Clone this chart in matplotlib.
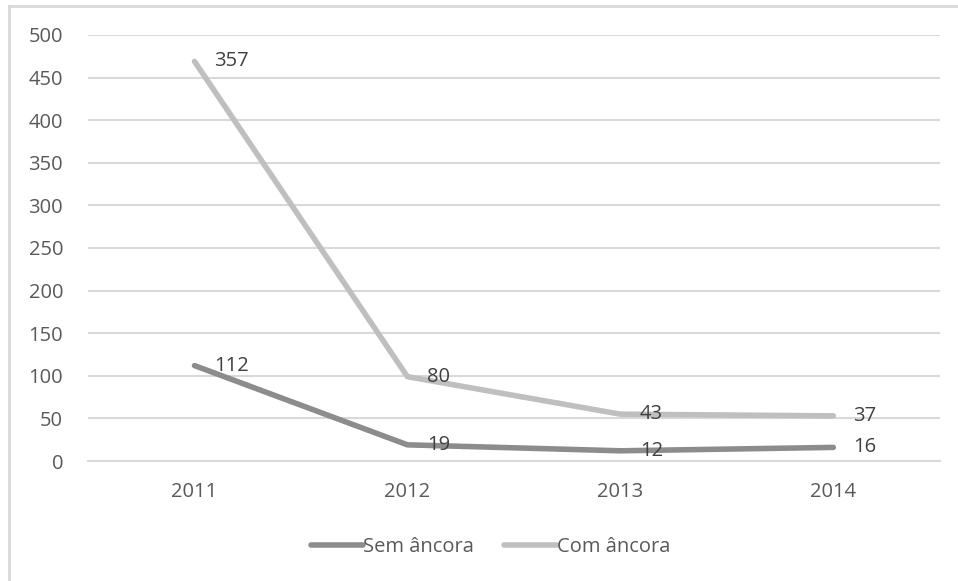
import numpy as np
import matplotlib.pyplot as plt
from matplotlib.lines import Line2D

years = ['2011', '2012', '2013', '2014']
sem_ancora = [112, 19, 12, 16]
com_ancora = [357, 80, 43, 37]

text_col = '#595959'
grid_col = '#d9d9d9'
dark = '#8c8c8c'
light = '#bfbfbf'
fs = 14.5

plt.rcParams['font.family'] = ['Open Sans', 'DejaVu Sans']

fig = plt.figure(figsize=(9.58, 5.81), dpi=100)
ax = fig.add_axes([0.0919, 0.2065, 0.8891, 0.7333])

x = np.arange(len(years))
stacked = np.array(sem_ancora) + np.array(com_ancora)   # stacked line chart

ax.plot(x, sem_ancora, color=dark, lw=4, solid_capstyle='round', label='Sem âncora', zorder=3)
ax.plot(x, stacked, color=light, lw=4, solid_capstyle='round', label='Com âncora', zorder=3)

for xi, yi, v in zip(x, sem_ancora, sem_ancora):
    ax.annotate(str(v), (xi, yi), xytext=(14, 0), textcoords='offset points',
                ha='left', va='center', fontsize=fs, color='#404040', zorder=4)
for xi, yi, v in zip(x, stacked, com_ancora):
    ax.annotate(str(v), (xi, yi), xytext=(14, 0), textcoords='offset points',
                ha='left', va='center', fontsize=fs, color='#404040', zorder=4)

ax.set_xlim(-0.5, 3.5)
ax.set_ylim(0, 500)
ax.set_yticks(np.arange(0, 501, 50))
ax.set_xticks(x)
ax.set_xticklabels(years)
ax.yaxis.grid(True, color=grid_col, lw=1.5)
ax.set_axisbelow(True)
for s in ax.spines.values():
    s.set_visible(False)
ax.spines['bottom'].set_visible(True)
ax.spines['bottom'].set_color(grid_col)
ax.spines['bottom'].set_linewidth(1.5)
ax.tick_params(length=0, labelsize=fs, labelcolor=text_col)
ax.tick_params(axis='x', pad=15)
ax.tick_params(axis='y', pad=18)

fig.legend(loc='center', bbox_to_anchor=(0.512, 0.058), ncol=2, frameon=False,
           fontsize=fs, labelcolor=text_col, handlelength=2.6, handletextpad=0.0,
           columnspacing=1.5)

# chart frame: only top and left edges visible in the crop
fig.add_artist(Line2D([0.0094, 0.0094], [0.0, 0.99], transform=fig.transFigure,
                      color=grid_col, lw=2))
fig.add_artist(Line2D([0.0094, 1.0], [0.99, 0.99], transform=fig.transFigure,
                      color=grid_col, lw=2))

fig.savefig('out.png', dpi=100, facecolor='white')
